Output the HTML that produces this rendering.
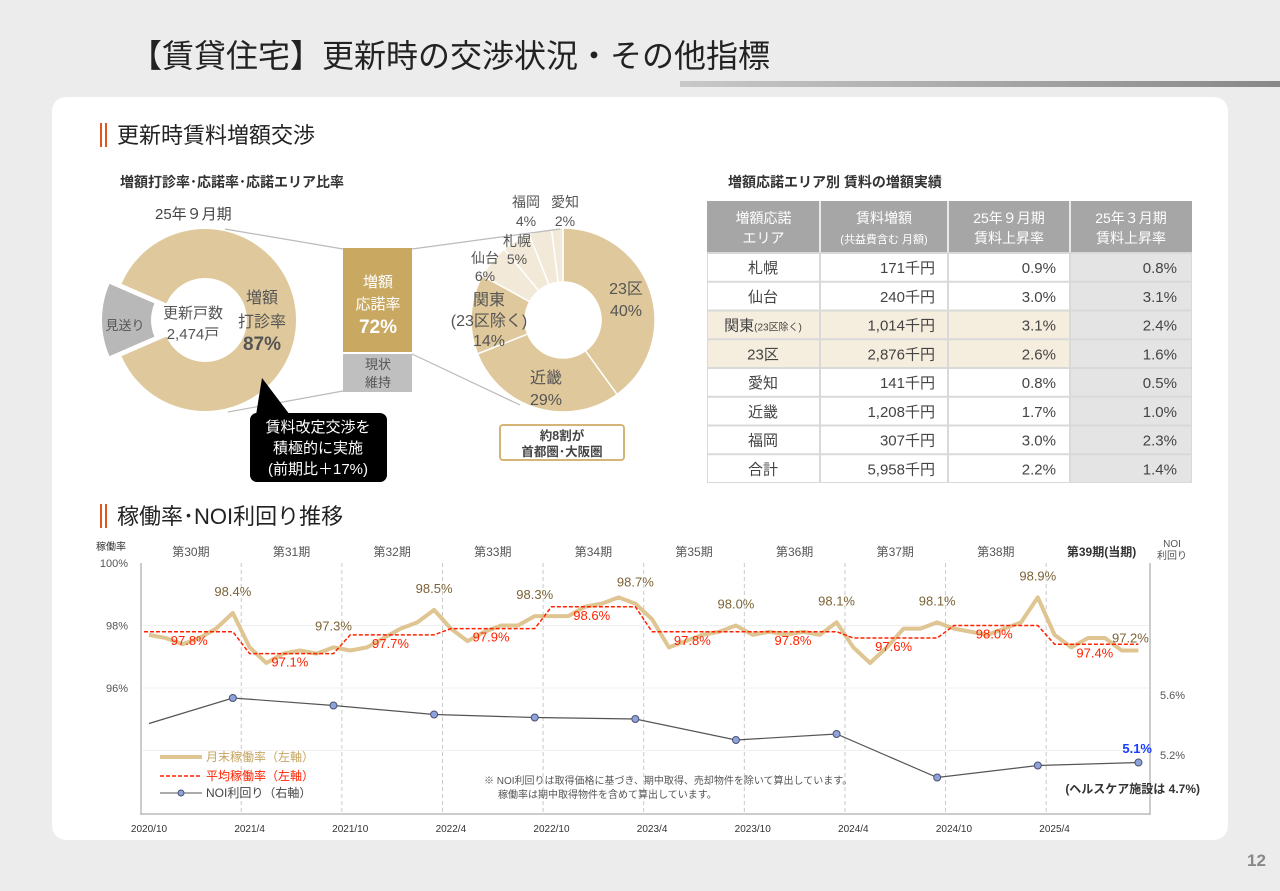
<!DOCTYPE html>
<html><head><meta charset="utf-8">
<style>
html,body{margin:0;padding:0;background:#ececec;}
body{width:1280px;height:886px;overflow:hidden;position:relative;font-family:"Liberation Sans","Noto Sans CJK JP",sans-serif;}
svg text{font-family:"Liberation Sans","Noto Sans CJK JP",sans-serif;}
</style></head>
<body>
<svg id="s" width="1280" height="886" viewBox="0 0 1280 886" xmlns="http://www.w3.org/2000/svg">
<defs><linearGradient id="tg" x1="0" x2="1"><stop offset="0" stop-color="#c8c8c8"/><stop offset="1" stop-color="#888"/></linearGradient></defs>
<text x="130" y="67" font-size="32" fill="#222">【賃貸住宅】更新時の交渉状況・その他指標</text>
<rect x="680" y="81" width="600" height="6" fill="url(#tg)"/>
<rect x="52" y="97" width="1176" height="743" rx="14" fill="#fff"/>
<text x="1247" y="866" font-size="17" font-weight="bold" fill="#888">12</text>

<g>
<rect x="100" y="123" width="2" height="24" fill="#e0561f"/><rect x="105" y="123" width="2" height="24" fill="#e0561f"/>
<text x="117" y="143" font-size="22" fill="#222">更新時賃料増額交渉</text></g>
<text x="120" y="187" font-size="14" font-weight="bold" fill="#333">増額打診率･応諾率･応諾エリア比率</text>
<text x="155" y="219" font-size="15" fill="#444">25年９月期</text>

<g id="ld"></g>
<g id="rd"></g>

<g stroke="#bbb" stroke-width="1.2">
<line x1="225" y1="229" x2="343" y2="249"/><line x1="228" y1="412" x2="343" y2="391"/>
<line x1="412" y1="249" x2="560" y2="229"/><line x1="412" y1="354" x2="520" y2="405"/></g>
<rect x="343" y="248" width="69" height="104" fill="#c9a862"/>
<rect x="343" y="354" width="69" height="38" fill="#bfbfbf"/>
<g fill="#fff" text-anchor="middle">
<text x="378" y="287" font-size="15">増額</text><text x="378" y="309" font-size="15">応諾率</text>
<text x="378" y="333" font-size="19" font-weight="bold">72%</text></g>
<g fill="#555" text-anchor="middle" font-size="13">
<text x="378" y="369">現状</text><text x="378" y="387">維持</text></g>

<g text-anchor="middle" fill="#555">
<text x="193" y="318" font-size="15">更新戸数</text><text x="193" y="339" font-size="15">2,474戸</text>
<text x="262" y="303" font-size="16">増額</text><text x="262" y="327" font-size="16">打診率</text>
<text x="262" y="350" font-size="19" font-weight="bold">87%</text>
<text x="125" y="330" font-size="13">見送り</text></g>

<g>
<path d="M262,378 L290,415 L256,415 Z" fill="#000"/>
<rect x="250" y="413" width="137" height="69" rx="7" fill="#000"/>
<g fill="#fff" text-anchor="middle" font-size="15"><text x="318" y="432">賃料改定交渉を</text><text x="318" y="453">積極的に実施</text><text x="318" y="474">(前期比＋17%)</text></g></g>

<g text-anchor="middle" fill="#555">
<text x="626" y="294" font-size="16">23区</text><text x="626" y="316" font-size="16">40%</text>
<text x="546" y="383" font-size="16">近畿</text><text x="546" y="405" font-size="16">29%</text>
<text x="489" y="305" font-size="16">関東</text><text x="489" y="326" font-size="16">(23区除く)</text><text x="489" y="346" font-size="16">14%</text>
<text x="485" y="263" font-size="14">仙台</text><text x="485" y="281" font-size="14">6%</text>
<text x="517" y="246" font-size="14">札幌</text><text x="517" y="264" font-size="14">5%</text>
<text x="526" y="207" font-size="14">福岡</text><text x="526" y="226" font-size="14">4%</text>
<text x="565" y="207" font-size="14">愛知</text><text x="565" y="226" font-size="14">2%</text></g>
<g>
<rect x="500" y="425" width="124" height="35" rx="3" fill="#fff" stroke="#d4b577" stroke-width="2"/>
<g text-anchor="middle" font-size="12.5" font-weight="bold" fill="#444"><text x="562" y="440">約8割が</text><text x="562" y="456">首都圏･大阪圏</text></g></g>

<text x="728" y="187" font-size="14" font-weight="bold" fill="#333">増額応諾エリア別 賃料の増額実績</text>
<g id="tbl"></g>

<g>
<rect x="100" y="504" width="2" height="24" fill="#e0561f"/><rect x="105" y="504" width="2" height="24" fill="#e0561f"/>
<text x="117" y="524" font-size="22" fill="#222">稼働率･NOI利回り推移</text></g>
<g id="chart"></g>
</svg>
<script>
const NS='http://www.w3.org/2000/svg';
function mk(p,t,a,txt){const e=document.createElementNS(NS,t);for(const k in a)e.setAttribute(k,a[k]);if(txt!==undefined)e.textContent=txt;p.appendChild(e);return e;}
function pt(cx,cy,r,a){a=a*Math.PI/180;return [cx+r*Math.sin(a),cy-r*Math.cos(a)];}
function arc(cx,cy,r0,r1,a0,a1){const l=(a1-a0)>180?1:0;const p1=pt(cx,cy,r1,a0),p2=pt(cx,cy,r1,a1),p3=pt(cx,cy,r0,a1),p4=pt(cx,cy,r0,a0);
return `M${p1}A${r1},${r1} 0 ${l} 1 ${p2}L${p3}A${r0},${r0} 0 ${l} 0 ${p4}Z`;}

// left donut data
const proposalNames=['増額打診','見送り'];
const proposalShares=[87,13];
// right donut data
const areaNames=['23区','近畿','関東','仙台','札幌','福岡','愛知'];
const areaShares=[40,29,14,6,5,4,2];
const areaColors=['#dfc89b','#dfc89b','#dfc89b','#f2e9d8','#f2e9d8','#f2e9d8','#f2e9d8'];

const ld=document.getElementById('ld');
{const g=proposalShares[1]*3.6;const a0=270+g/2;
 const p=mk(ld,'path',{d:arc(205,320,42,91,a0,a0+proposalShares[0]*3.6),fill:'#dfc89b'});
 
 const q=mk(ld,'path',{d:arc(193,320,42,91,270-g/2,270+g/2),fill:'#b8b8b8'});
 }
const rd=document.getElementById('rd');
{let a=0;areaShares.forEach((v,i)=>{const b=a+v*3.6;
 const p=mk(rd,'path',{d:arc(563,320,38,92,a,b),fill:areaColors[i],stroke:'#fff','stroke-width':1.5});
 a=b;});}

// table
const tAreas=['札幌','仙台','関東','23区','愛知','近畿','福岡','合計'];
const tAmounts=['171千円','240千円','1,014千円','2,876千円','141千円','1,208千円','307千円','5,958千円'];
const tSep=['0.9%','3.0%','3.1%','2.6%','0.8%','1.7%','3.0%','2.2%'];
const tMar=['0.8%','3.1%','2.4%','1.6%','0.5%','1.0%','2.3%','1.4%'];
const tbl=document.getElementById('tbl');
const cx=[707,820,948,1070,1192];
mk(tbl,'rect',{x:707,y:201,width:485,height:282,fill:'#d9d9d9'});
mk(tbl,'rect',{x:707,y:201,width:485,height:51,fill:'#a6a6a6'});
const hd=[['増額応諾','エリア'],['賃料増額','(共益費含む 月額)'],['25年９月期','賃料上昇率'],['25年３月期','賃料上昇率']];
hd.forEach((h,i)=>{const m=(cx[i]+cx[i+1])/2;
 mk(tbl,'text',{x:m,y:223,'font-size':14,fill:'#fff','text-anchor':'middle'},h[0]);
 mk(tbl,'text',{x:m,y:243,'font-size':i==1?11:14,fill:'#fff','text-anchor':'middle'},h[1]);
 if(i>0)mk(tbl,'line',{x1:cx[i],y1:201,x2:cx[i],y2:252,stroke:'#fff','stroke-width':1.5});});
const rh=28.75;
tAreas.forEach((a,r)=>{const y=253+r*rh;const hl=(r==2||r==3);
 for(let c=0;c<4;c++){mk(tbl,'rect',{x:cx[c]+1,y:y+1,width:cx[c+1]-cx[c]-2,height:rh-2,fill:c==3?'#e4e4e4':(hl?'#f5eddd':'#fff')});}
 const ty=y+20;
 const t=mk(tbl,'text',{x:763,y:ty,'font-size':15,fill:'#444','text-anchor':'middle'},a);
 if(r==2){t.textContent='';mk(t,'tspan',{},'関東');mk(t,'tspan',{'font-size':10},'(23区除く)');}
 mk(tbl,'text',{x:935,y:ty,'font-size':15,fill:'#444','text-anchor':'end'},tAmounts[r]);
 mk(tbl,'text',{x:1056,y:ty,'font-size':15,fill:'#444','text-anchor':'end'},tSep[r]);
 mk(tbl,'text',{x:1177,y:ty,'font-size':15,fill:'#444','text-anchor':'end'},tMar[r]);});

// chart data
const occMonthly=[97.7,97.6,97.4,97.6,97.9,98.4,97.3,96.8,97.1,97.2,97.1,97.3,97.2,97.3,97.6,97.9,98.1,98.5,97.9,97.5,97.8,98.0,98.0,98.3,98.3,98.3,98.6,98.7,98.9,98.7,98.2,97.3,97.5,97.7,97.8,98.0,97.7,97.8,97.7,97.8,97.7,98.1,97.3,96.8,97.3,97.9,97.9,98.1,97.9,97.8,97.7,97.9,98.1,98.9,97.7,97.3,97.6,97.6,97.2,97.2];
const occAvg=[97.8,97.1,97.7,97.9,98.6,97.8,97.8,97.6,98.0,97.4];
const periodLabels=['第30期','第31期','第32期','第33期','第34期','第35期','第36期','第37期','第38期','第39期(当期)'];
const noiMonths=[0,5,11,17,23,29,35,41,47,53,59];
const noiValues=[5.41,5.58,5.53,5.47,5.45,5.44,5.30,5.34,5.05,5.13,5.15];
const noiLatestLabel='5.1%';
const xLabels=['2020/10','2021/4','2021/10','2022/4','2022/10','2023/4','2023/10','2024/4','2024/10','2025/4'];
const leftTicks=[100,98,96];
const rightTicks=[5.6,5.2];

const X=m=>149+16.77*m;
const YL=v=>563+(100-v)*31.25;
const YR=v=>695+(5.6-v)*150;
const ch=document.getElementById('chart');
[98,96,94].forEach(v=>mk(ch,'line',{x1:141,y1:YL(v),x2:1150,y2:YL(v),stroke:'#f0f0f0'}));
for(let k=0;k<9;k++){const l=mk(ch,'line',{x1:X(6*k+5.5),y1:563,x2:X(6*k+5.5),y2:814,stroke:'#c8c8c8','stroke-dasharray':'4,3'});
 }
mk(ch,'line',{x1:141,y1:563,x2:141,y2:815,stroke:'#bbb','stroke-width':1.5});
mk(ch,'line',{x1:1150,y1:563,x2:1150,y2:815,stroke:'#bbb','stroke-width':1.5});
mk(ch,'line',{x1:141,y1:814,x2:1150,y2:814,stroke:'#bbb','stroke-width':1.5});
leftTicks.forEach(v=>{const t=mk(ch,'text',{x:128,y:YL(v)+4,'font-size':11,fill:'#555','text-anchor':'end'},v+'%');
 });
rightTicks.forEach(v=>{const t=mk(ch,'text',{x:1160,y:YR(v)+4,'font-size':11,fill:'#555'},v.toFixed(1)+'%');
 });
xLabels.forEach((s,i)=>{const t=mk(ch,'text',{x:X(6*i),y:832,'font-size':10,fill:'#333','text-anchor':'middle'},s);
 });
periodLabels.forEach((s,i)=>{const last=i==periodLabels.length-1;
 const t=mk(ch,'text',{x:last?X(6*i+2.8):X(6*i+2.5),y:556,'font-size':12,fill:last?'#333':'#555','font-weight':last?'bold':'normal','text-anchor':'middle'},s);
 });
mk(ch,'text',{x:96,y:550,'font-size':10,fill:'#333'},'稼働率');
mk(ch,'text',{x:1172,y:547,'font-size':10,fill:'#555','text-anchor':'middle'},'NOI');
mk(ch,'text',{x:1172,y:559,'font-size':10,fill:'#555','text-anchor':'middle'},'利回り');
const occ=mk(ch,'polyline',{points:occMonthly.map((v,m)=>X(m)+','+YL(v)).join(' '),fill:'none',stroke:'#dfc592','stroke-width':4,'stroke-linejoin':'round'});

const ap=[];occAvg.forEach((v,k)=>{ap.push((k==0?X(-0.3):X(6*k))+','+YL(v));ap.push(X(6*k+5)+','+YL(v));});
const avg=mk(ch,'polyline',{points:ap.join(' '),fill:'none',stroke:'#ff2200','stroke-width':1.5,'stroke-dasharray':'4,2'});

const noi=mk(ch,'polyline',{points:noiMonths.map((m,i)=>X(m)+','+YR(noiValues[i])).join(' '),fill:'none',stroke:'#555','stroke-width':1.2});

noiMonths.forEach((m,i)=>{if(i==0)return;const c=mk(ch,'circle',{cx:X(m),cy:YR(noiValues[i]),r:3.5,fill:'#8fa2dc',stroke:'#4a5270','stroke-width':1});
 });
for(let k=0;k<10;k++){const m=6*k+5,v=occMonthly[m];const last=k==9;
 const t=mk(ch,'text',{x:last?X(m)-8:X(m),y:last?YL(v)-8:YL(v)-17,'font-size':13,fill:'#7b6336','text-anchor':'middle'},v.toFixed(1)+'%');
 
 const r=mk(ch,'text',{x:X(6*k+2.4),y:YL(occAvg[k])+13,'font-size':13,fill:'#ff2200','text-anchor':'middle'},occAvg[k].toFixed(1)+'%');
 }
mk(ch,'text',{x:1152,y:753,'font-size':13,'font-weight':'bold',fill:'#1a3cff','text-anchor':'end'},noiLatestLabel);
mk(ch,'text',{x:1200,y:793,'font-size':12,'font-weight':'bold',fill:'#333','text-anchor':'end'},'(ヘルスケア施設は 4.7%)');
const lg=mk(ch,'g',{});

mk(lg,'line',{x1:160,y1:757,x2:202,y2:757,stroke:'#dfc592','stroke-width':4});
mk(lg,'text',{x:206,y:761,'font-size':12,fill:'#c5a560'},'月末稼働率（左軸）');
mk(lg,'line',{x1:160,y1:776,x2:202,y2:776,stroke:'#ff2200','stroke-width':1.5,'stroke-dasharray':'4,2'});
mk(lg,'text',{x:206,y:780,'font-size':12,fill:'#ff2200'},'平均稼働率（左軸）');
mk(lg,'line',{x1:160,y1:793,x2:202,y2:793,stroke:'#555'});
mk(lg,'circle',{cx:181,cy:793,r:3,fill:'#8fa2dc',stroke:'#4a5270'});
mk(lg,'text',{x:206,y:797,'font-size':12,fill:'#444'},'NOI利回り（右軸）');
const nt=mk(ch,'g',{'font-size':10,fill:'#555'});

mk(nt,'text',{x:484,y:784},'※ NOI利回りは取得価格に基づき、期中取得、売却物件を除いて算出しています。');
mk(nt,'text',{x:498,y:798},'稼働率は期中取得物件を含めて算出しています。');
</script>
</body></html>
